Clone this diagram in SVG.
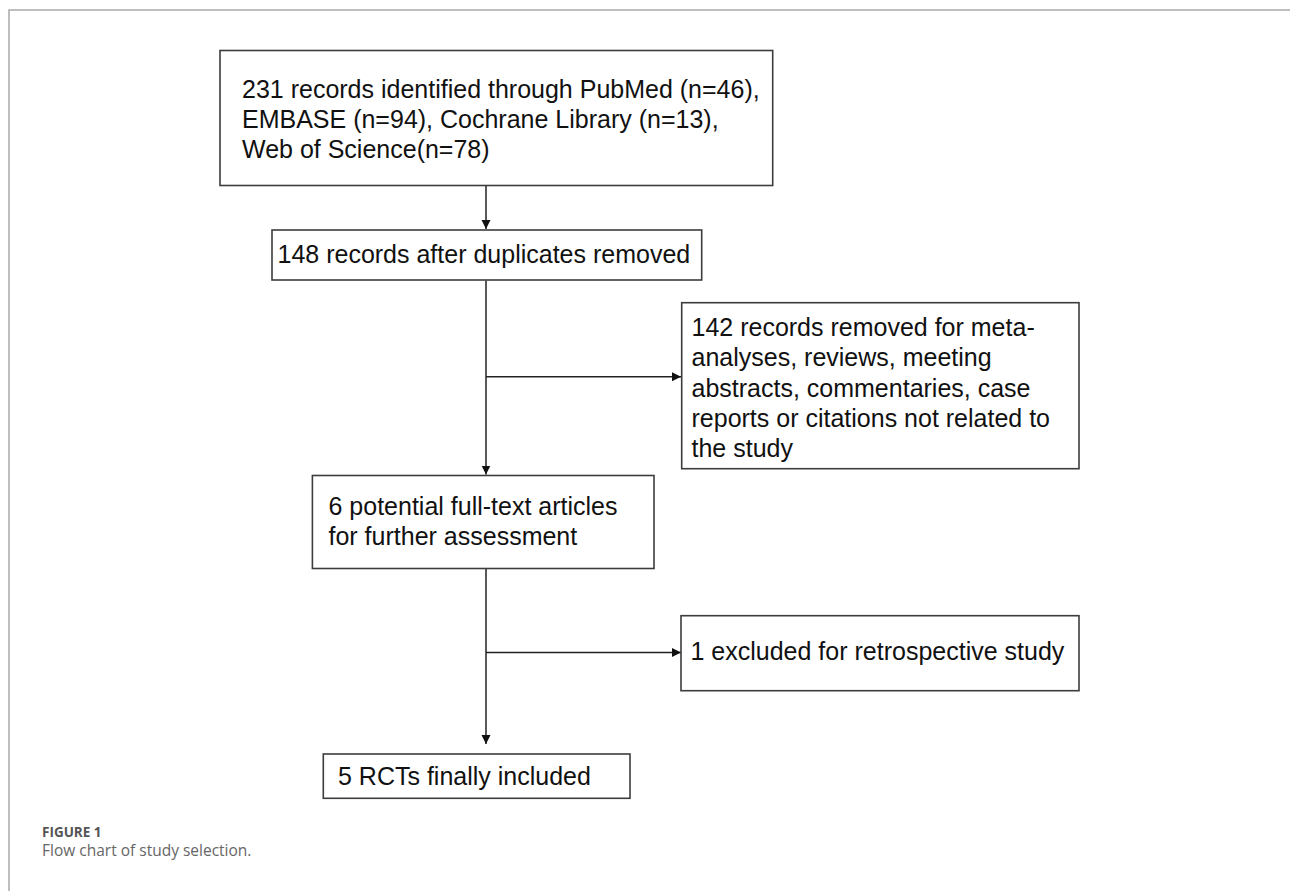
<svg xmlns="http://www.w3.org/2000/svg" width="1290" height="891" viewBox="0 0 1290 891">
<style>
.box{fill:#fff;stroke:#3c3c3c;stroke-width:1.6}
.t{font-family:"Liberation Sans",Arial,sans-serif;font-size:25px;fill:#111}
.con{fill:none;stroke:#222;stroke-width:1.5}
.frame{fill:none;stroke:#a9a9a9;stroke-width:1.5}
.cap1{font-family:"Open Sans","Noto Sans",sans-serif;font-weight:bold;font-size:13.5px;fill:#555}
.cap2{font-family:"Open Sans","Noto Sans",sans-serif;font-size:15.5px;fill:#666}
</style>
<defs>
<marker id="ah" markerWidth="10" markerHeight="10" refX="9" refY="5" orient="auto" markerUnits="userSpaceOnUse">
<path d="M0,0.5 L9,5 L0,9.5 Z" fill="#111"/>
</marker>
</defs>
<rect width="1290" height="891" fill="#fff"/>
<path class="frame" d="M1290,10 H9 V891"/>
<g id="connectors">
<path class="con" d="M486,185.5 V229" marker-end="url(#ah)"/>
<path class="con" d="M486,280.5 V474.5" marker-end="url(#ah)"/>
<path class="con" d="M486,376.7 H681" marker-end="url(#ah)"/>
<path class="con" d="M486,568.5 V744" marker-end="url(#ah)"/>
<path class="con" d="M486,652.5 H681" marker-end="url(#ah)"/>
</g>
<g id="n1">
<rect class="box" x="220" y="50.5" width="552.7" height="135"/>
<text class="t" x="242" y="98.3">231 records identified through PubMed (n=46),</text>
<text class="t" x="242" y="128.3">EMBASE (n=94), Cochrane Library (n=13),</text>
<text class="t" x="242" y="158.3">Web of Science(n=78)</text>
</g>
<g id="n2">
<rect class="box" x="272" y="230" width="429.7" height="50"/>
<text class="t" x="277.5" y="263">148 records after duplicates removed</text>
</g>
<g id="n3">
<rect class="box" x="681.7" y="302.7" width="397.3" height="166"/>
<text class="t" x="691.5" y="336">142 records removed for meta-</text>
<text class="t" x="691.5" y="366.3">analyses, reviews, meeting</text>
<text class="t" x="691.5" y="396.5">abstracts, commentaries, case</text>
<text class="t" x="691.5" y="426.8">reports or citations not related to</text>
<text class="t" x="691.5" y="457">the study</text>
</g>
<g id="n4">
<rect class="box" x="312.4" y="475.5" width="341.6" height="93"/>
<text class="t" x="328.5" y="515">6 potential full-text articles</text>
<text class="t" x="328.5" y="545">for further assessment</text>
</g>
<g id="n5">
<rect class="box" x="681" y="615.7" width="398" height="75"/>
<text class="t" x="690.5" y="660">1 excluded for retrospective study</text>
</g>
<g id="n6">
<rect class="box" x="323.3" y="754" width="306.7" height="44.3"/>
<text class="t" x="338" y="785">5 RCTs finally included</text>
</g>
<text class="cap1" x="42" y="837">FIGURE 1</text>
<text class="cap2" x="42" y="855.5">Flow chart of study selection.</text>
</svg>
